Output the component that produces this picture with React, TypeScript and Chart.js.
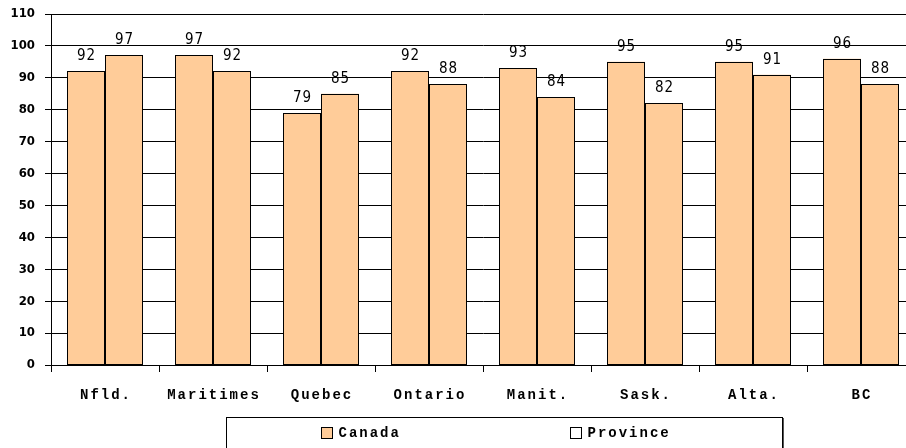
import React, { useEffect, useRef } from "react";
import { Chart, registerables } from "chart.js";

Chart.register(...registerables);

const categories = ["Nfld.", "Maritimes", "Quebec", "Ontario", "Manit.", "Sask.", "Alta.", "BC"];
const canadaValues = [92, 97, 79, 92, 93, 95, 95, 96];
const provinceValues = [97, 92, 85, 88, 84, 82, 91, 88];
const seriesLabels = ["Canada", "Province"];
const yMin = 0;
const yMax = 110;
const yStep = 10;

const barFill = "#FFCC99";
const legendSwatches = ["#FFCC99", "#FFFFFF"];

const labelFont = "bold 14px 'Liberation Mono', 'DejaVu Sans Mono', monospace";
const valueFont = "15px 'DejaVu Sans Condensed', 'DejaVu Sans', sans-serif";

const xLabelPlugin = {
  id: "xLabels",
  afterDraw(chart: any) {
    const ctx = chart.ctx;
    const xs = chart.scales.x;
    ctx.save();
    ctx.font = labelFont;
    (ctx as any).letterSpacing = "2px";
    ctx.fillStyle = "#000";
    ctx.textAlign = "center";
    ctx.textBaseline = "middle";
    categories.forEach((c, i) => {
      ctx.fillText(c, xs.getPixelForValue(i) + 1, chart.chartArea.bottom + 30);
    });
    ctx.restore();
  },
};

const valueLabelPlugin = {
  id: "valueLabels",
  afterDatasetsDraw(chart: any) {
    const ctx = chart.ctx;
    ctx.save();
    // crisp bar outlines
    ctx.strokeStyle = "#000";
    ctx.lineWidth = 1;
    chart.data.datasets.forEach((_ds: any, di: number) => {
      const meta = chart.getDatasetMeta(di);
      meta.data.forEach((bar: any) => {
        const l = Math.round(bar.x - bar.width / 2) + 0.5;
        const r = Math.round(bar.x + bar.width / 2) - 0.5;
        const t = Math.round(bar.y) + 0.5;
        const b = Math.round(bar.base) - 0.5;
        ctx.strokeRect(l, t, r - l, b - t);
      });
    });
    ctx.font = valueFont;
    (ctx as any).letterSpacing = "1px";
    ctx.fillStyle = "#000";
    ctx.textAlign = "center";
    ctx.textBaseline = "middle";
    chart.data.datasets.forEach((ds: any, di: number) => {
      const meta = chart.getDatasetMeta(di);
      meta.data.forEach((bar: any, i: number) => {
        ctx.fillText(String(ds.data[i]), bar.x + 0.5, bar.y - 15);
      });
    });
    ctx.restore();
  },
};

const legendPlugin = {
  id: "boxLegend",
  afterDraw(chart: any) {
    const ctx = chart.ctx;
    ctx.save();
    ctx.strokeStyle = "#000";
    ctx.lineWidth = 1;
    ctx.strokeRect(226.5, 417.5, 556, 40);
    ctx.beginPath();
    ctx.moveTo(783.5, 418);
    ctx.lineTo(783.5, 460);
    ctx.strokeStyle = "#555";
    ctx.stroke();
    const items = [
      { x: 321.5, text: seriesLabels[0], color: legendSwatches[0] },
      { x: 570.5, text: seriesLabels[1], color: legendSwatches[1] },
    ];
    ctx.font = labelFont;
    (ctx as any).letterSpacing = "2px";
    ctx.textAlign = "left";
    ctx.textBaseline = "middle";
    items.forEach((it) => {
      ctx.fillStyle = it.color;
      ctx.fillRect(it.x, 427.5, 11, 11);
      ctx.strokeStyle = "#000";
      ctx.strokeRect(it.x, 427.5, 11, 11);
      ctx.fillStyle = "#000";
      ctx.fillText(it.text, it.x + 17, 433.5);
    });
    ctx.restore();
  },
};

export default function App() {
  const ref = useRef<HTMLCanvasElement | null>(null);

  useEffect(() => {
    if (!ref.current) return;
    const chart = new Chart(ref.current, {
      type: "bar",
      data: {
        labels: categories,
        datasets: [
          {
            label: seriesLabels[0],
            data: canadaValues,
            backgroundColor: barFill,
            borderWidth: 0,
            categoryPercentage: 76 / 108,
            barPercentage: 1.0,
          },
          {
            label: seriesLabels[1],
            data: provinceValues,
            backgroundColor: barFill,
            borderWidth: 0,
            categoryPercentage: 76 / 108,
            barPercentage: 1.0,
          },
        ],
      },
      options: {
        responsive: false,
        animation: false,
        devicePixelRatio: 1,
        layout: { padding: { top: 14, left: 0, right: 0, bottom: 0 } },
        plugins: {
          legend: { display: false },
          tooltip: { enabled: false },
        },
        scales: {
          x: {
            grid: {
              display: true,
              drawOnChartArea: false,
              drawTicks: true,
              tickLength: 7,
              color: "#000",
              offset: true,
            },
            border: { display: true, color: "#000", width: 1 },
            ticks: { display: false },
            afterFit: (s: any) => {
              s.height = 95;
              s.paddingLeft = 0;
              s.paddingRight = 0;
            },
          },
          y: {
            min: yMin,
            max: yMax,
            ticks: {
              stepSize: yStep,
              color: "#000",
              padding: 10,
              font: { family: "'DejaVu Sans Condensed', 'DejaVu Sans', sans-serif", size: 13, weight: "bold" },
            },
            grid: { color: "#000", tickLength: 6, lineWidth: 1 },
            border: { display: true, color: "#000", width: 1 },
            afterFit: (s: any) => {
              s.width = 51;
              s.paddingTop = 0;
              s.paddingBottom = 0;
            },
          },
        },
      },
      plugins: [valueLabelPlugin, xLabelPlugin, legendPlugin],
    });
    return () => chart.destroy();
  }, []);

  return (
    <div
      style={{
        position: "fixed",
        left: 0,
        top: 0,
        width: 906,
        height: 448,
        overflow: "hidden",
        background: "#fff",
      }}
    >
      <canvas ref={ref} width={915} height={460} style={{ display: "block" }} />
    </div>
  );
}
